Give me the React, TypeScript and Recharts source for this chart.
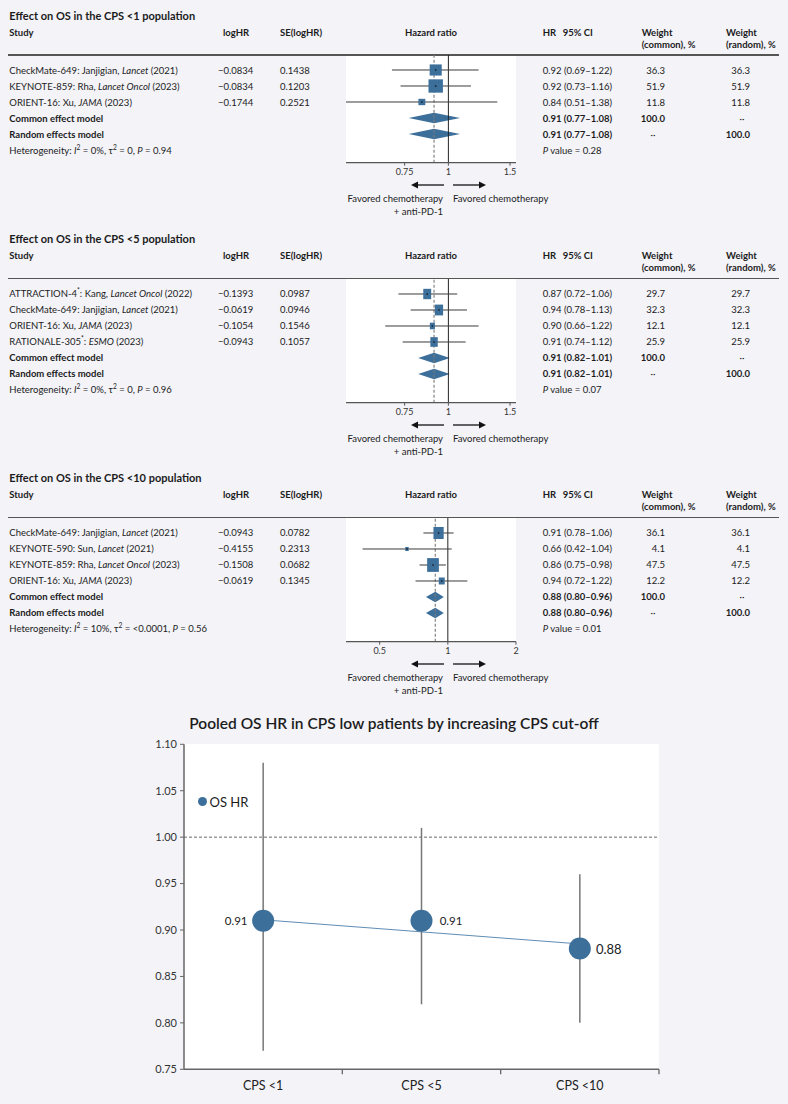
import React from 'react';
import {
  ScatterChart, Scatter, XAxis, YAxis, ReferenceLine, ReferenceArea,
  ComposedChart, Line, ErrorBar, LabelList,
} from 'recharts';

const FONT = 'Lato, "Noto Sans", sans-serif';
const BG = '#f3f3f8';
const BLUE = '#3d6f9b';
const PAGE_W = 788;

// ---------- Panel 1: CPS <1 ----------
const p1Title = 'Effect on OS in the CPS <1 population';
const p1Studies = [
  ['CheckMate-649', false, 'Janjigian, ', 'Lancet', ' (2021)'],
  ['KEYNOTE-859', false, 'Rha, ', 'Lancet Oncol', ' (2023)'],
  ['ORIENT-16', false, 'Xu, ', 'JAMA', ' (2023)'],
];
const p1LogHR = [-0.0834, -0.0834, -0.1744];
const p1SE = [0.1438, 0.1203, 0.2521];
const p1HR = [0.92, 0.92, 0.84];
const p1Low = [0.69, 0.73, 0.51];
const p1High = [1.22, 1.16, 1.38];
const p1WCommon = [36.3, 51.9, 11.8];
const p1WRandom = [36.3, 51.9, 11.8];
const p1Pooled = [0.91, 0.77, 1.08];
const p1Het = ['0%', '0', '0.94'];
const p1PValue = '0.28';
const p1Ticks = [0.75, 1, 1.5];
const p1Domain = [0.51, 1.56];

// ---------- Panel 2: CPS <5 ----------
const p2Title = 'Effect on OS in the CPS <5 population';
const p2Studies = [
  ['ATTRACTION-4', true, 'Kang, ', 'Lancet Oncol', ' (2022)'],
  ['CheckMate-649', false, 'Janjigian, ', 'Lancet', ' (2021)'],
  ['ORIENT-16', false, 'Xu, ', 'JAMA', ' (2023)'],
  ['RATIONALE-305', true, '', 'ESMO', ' (2023)'],
];
const p2LogHR = [-0.1393, -0.0619, -0.1054, -0.0943];
const p2SE = [0.0987, 0.0946, 0.1546, 0.1057];
const p2HR = [0.87, 0.94, 0.9, 0.91];
const p2Low = [0.72, 0.78, 0.66, 0.74];
const p2High = [1.06, 1.13, 1.22, 1.12];
const p2WCommon = [29.7, 32.3, 12.1, 25.9];
const p2WRandom = [29.7, 32.3, 12.1, 25.9];
const p2Pooled = [0.91, 0.82, 1.01];
const p2Het = ['0%', '0', '0.96'];
const p2PValue = '0.07';
const p2Ticks = [0.75, 1, 1.5];
const p2Domain = [0.51, 1.56];

// ---------- Panel 3: CPS <10 ----------
const p3Title = 'Effect on OS in the CPS <10 population';
const p3Studies = [
  ['CheckMate-649', false, 'Janjigian, ', 'Lancet', ' (2021)'],
  ['KEYNOTE-590', false, 'Sun, ', 'Lancet', ' (2021)'],
  ['KEYNOTE-859', false, 'Rha, ', 'Lancet Oncol', ' (2023)'],
  ['ORIENT-16', false, 'Xu, ', 'JAMA', ' (2023)'],
];
const p3LogHR = [-0.0943, -0.4155, -0.1508, -0.0619];
const p3SE = [0.0782, 0.2313, 0.0682, 0.1345];
const p3HR = [0.91, 0.66, 0.86, 0.94];
const p3Low = [0.78, 0.42, 0.75, 0.72];
const p3High = [1.06, 1.04, 0.98, 1.22];
const p3WCommon = [36.1, 4.1, 47.5, 12.2];
const p3WRandom = [36.1, 4.1, 47.5, 12.2];
const p3Pooled = [0.88, 0.8, 0.96];
const p3Het = ['10%', '<0.0001', '0.56'];
const p3PValue = '0.01';
const p3Ticks = [0.5, 1, 2];
const p3Domain = [0.355, 2.0];

// ---------- Summary chart ----------
const summaryTitle = 'Pooled OS HR in CPS low patients by increasing CPS cut-off';
const cpsCategories = ['CPS <1', 'CPS <5', 'CPS <10'];
const pooledHR = [0.91, 0.91, 0.88];
const pooledLow = [0.77, 0.82, 0.8];
const pooledHigh = [1.08, 1.01, 0.96];
const trendHR = [0.911, 0.898, 0.885];
const summaryYTicks = [0.75, 0.8, 0.85, 0.9, 0.95, 1.0, 1.05, 1.1];

// ---------- helpers ----------
function Txt({ x, y, children, anchor = 'start', size = 9.5, weight = 400, style = {} }: any) {
  const lh = Math.round(size * 1.35);
  const base: any = {
    position: 'absolute', top: y - lh / 2, lineHeight: lh + 'px', fontSize: size,
    fontWeight: weight, whiteSpace: 'nowrap', color: '#1c1c1c', fontFamily: FONT, ...style,
  };
  if (anchor === 'end') return <div style={{ ...base, right: PAGE_W - x }}>{children}</div>;
  if (anchor === 'middle') return <div style={{ ...base, left: x, transform: 'translateX(-50%)' }}>{children}</div>;
  return <div style={{ ...base, left: x }}>{children}</div>;
}

const supStyle: any = { fontSize: '0.7em', verticalAlign: 'super', lineHeight: 0 };

const fmtCI = (h: number, l: number, u: number) => `${h.toFixed(2)} (${l.toFixed(2)}–${u.toFixed(2)})`;
const fmtLog = (v: number) => v.toFixed(4).replace('-', '−');

function ForestChart({ hr, lo, hi, w, pooled, domain, ticks, sq, plotH, n }: any) {
  const k = hr.length;
  const pts = hr.map((v: number, i: number) => ({ x: v, y: i, w: w[i] }));
  const lnL = Math.log(pooled[1]);
  const lnU = Math.log(pooled[2]);
  const frac = (Math.log(pooled[0]) - lnL) / (lnU - lnL);
  const diamond = (p: any) => {
    const { x, y, width, height } = p;
    const ex = x + frac * width;
    return (
      <polygon
        points={`${x},${y + height / 2} ${ex},${y} ${x + width},${y + height / 2} ${ex},${y + height}`}
        fill={BLUE}
      />
    );
  };
  const square = (p: any) => {
    const { cx, cy, payload } = p;
    const s = Math.sqrt(payload.w);
    const ww = sq[0] * s;
    const hh = sq[1] * s;
    return (
      <g>
        <rect x={cx - ww / 2} y={cy - hh / 2} width={ww} height={hh} fill={BLUE} />
        <circle cx={cx} cy={cy} r={0.9} fill="#1d2a38" />
      </g>
    );
  };
  return (
    <ScatterChart width={190} height={plotH + 22} margin={{ top: 0, right: 10, bottom: 0, left: 10 }}>
      <XAxis
        type="number" dataKey="x" scale="log" domain={domain} allowDataOverflow ticks={ticks}
        interval={0} tickSize={3} tickMargin={3} height={22}
        axisLine={{ stroke: '#555', strokeWidth: 1.3 }} tickLine={{ stroke: '#555' }}
        tick={{ fontSize: 9, fill: '#333', fontFamily: FONT }} tickFormatter={(v: number) => String(v)}
      />
      <YAxis type="number" dataKey="y" domain={[-0.9375, n - 0.206]} reversed hide allowDataOverflow />
      <ReferenceLine x={pooled[0]} stroke="#7a7a7a" strokeDasharray="3 2" strokeWidth={1.1} />
      <ReferenceLine x={1} stroke="#222" strokeWidth={1} />
      {hr.map((v: number, i: number) => (
        <ReferenceLine
          key={i} segment={[{ x: lo[i], y: i }, { x: hi[i], y: i }]}
          stroke="#3a3a3a" strokeWidth={1} ifOverflow="visible"
        />
      ))}
      <Scatter data={pts} isAnimationActive={false} shape={square} />
      {[0, 1].map((j) => (
        <ReferenceArea
          key={j} x1={pooled[1]} x2={pooled[2]} y1={k + j - 0.33} y2={k + j + 0.33}
          ifOverflow="visible" shape={diamond}
        />
      ))}
    </ScatterChart>
  );
}

function Arrows({ y }: any) {
  return (
    <svg style={{ position: 'absolute', left: 400, top: y - 5 }} width={100} height={10}>
      <line x1={18} x2={44} y1={5} y2={5} stroke="#111" strokeWidth={1.3} />
      <polygon points="11,5 18,1.5 18,8.5" fill="#111" />
      <line x1={53} x2={79} y1={5} y2={5} stroke="#111" strokeWidth={1.3} />
      <polygon points="86,5 79,1.5 79,8.5" fill="#111" />
    </svg>
  );
}

function ForestPanel({ top, title, studies, logHR, se, hr, lo, hi, wc, wr, pooled, het, pval, domain, ticks, sq }: any) {
  const k = hr.length;
  const n = k + 3;
  const rule = top + 40;
  const rowY = (i: number) => rule + 15 + 16 * i;
  const plotH = 16 * n + 11.7;
  const axisY = rule + plotH;
  const hs = 9.5;
  const rs = 9.5;
  return (
    <>
      <Txt x={9.3} y={top} size={11} weight={700}>{title}</Txt>
      <Txt x={9.3} y={top + 17} size={hs} weight={700}>Study</Txt>
      <Txt x={223} y={top + 17} size={hs} weight={700}>logHR</Txt>
      <Txt x={280} y={top + 17} size={hs} weight={700}>SE(logHR)</Txt>
      <Txt x={431} y={top + 17} size={hs} weight={700} anchor="middle">Hazard ratio</Txt>
      <Txt x={542.7} y={top + 17} size={hs} weight={700}>HR</Txt>
      <Txt x={562.7} y={top + 17} size={hs} weight={700}>95% CI</Txt>
      <Txt x={641.7} y={top + 17} size={hs} weight={700}>Weight</Txt>
      <Txt x={641.7} y={top + 29} size={hs} weight={700}>(common), %</Txt>
      <Txt x={726} y={top + 17} size={hs} weight={700}>Weight</Txt>
      <Txt x={726} y={top + 29} size={hs} weight={700}>(random), %</Txt>
      <div style={{ position: 'absolute', left: 8, top: rule - 0.75, width: 771, height: 1.5, background: '#555' }} />
      <div style={{ position: 'absolute', left: 346, top: rule + 0.75, width: 170, height: plotH - 0.75, background: '#fff' }} />
      <div style={{ position: 'absolute', left: 336, top: rule }}>
        <ForestChart hr={hr} lo={lo} hi={hi} w={wc} pooled={pooled} domain={domain} ticks={ticks} sq={sq} plotH={plotH} n={n} />
      </div>
      {studies.map((s: any, i: number) => (
        <React.Fragment key={i}>
          <Txt x={9.3} y={rowY(i)} size={rs}>
            {s[0]}{s[1] ? <span style={supStyle}>*</span> : null}: {s[2]}<i>{s[3]}</i>{s[4]}
          </Txt>
          <Txt x={218} y={rowY(i)} size={rs}>{fmtLog(logHR[i])}</Txt>
          <Txt x={280} y={rowY(i)} size={rs}>{se[i].toFixed(4)}</Txt>
          <Txt x={542.7} y={rowY(i)} size={rs}>{fmtCI(hr[i], lo[i], hi[i])}</Txt>
          <Txt x={665} y={rowY(i)} size={rs} anchor="end">{wc[i].toFixed(1)}</Txt>
          <Txt x={750} y={rowY(i)} size={rs} anchor="end">{wr[i].toFixed(1)}</Txt>
        </React.Fragment>
      ))}
      <Txt x={9.3} y={rowY(k)} size={rs} weight={700}>Common effect model</Txt>
      <Txt x={542.7} y={rowY(k)} size={rs} weight={700}>{fmtCI(pooled[0], pooled[1], pooled[2])}</Txt>
      <Txt x={665} y={rowY(k)} size={rs} weight={700} anchor="end">100.0</Txt>
      <Txt x={742} y={rowY(k)} size={rs} anchor="middle">··</Txt>
      <Txt x={9.3} y={rowY(k + 1)} size={rs} weight={700}>Random effects model</Txt>
      <Txt x={542.7} y={rowY(k + 1)} size={rs} weight={700}>{fmtCI(pooled[0], pooled[1], pooled[2])}</Txt>
      <Txt x={653} y={rowY(k + 1)} size={rs} anchor="middle">··</Txt>
      <Txt x={750} y={rowY(k + 1)} size={rs} weight={700} anchor="end">100.0</Txt>
      <Txt x={9.3} y={rowY(k + 2)} size={rs}>
        Heterogeneity: <i>I</i><span style={supStyle}>2</span> = {het[0]}, τ<span style={supStyle}>2</span> = {het[1]}, <i>P</i> = {het[2]}
      </Txt>
      <Txt x={542.7} y={rowY(k + 2)} size={rs}><i>P</i> value = {pval}</Txt>
      <Arrows y={axisY + 22.5} />
      <Txt x={443} y={axisY + 36} size={rs} anchor="end">Favored chemotherapy</Txt>
      <Txt x={443} y={axisY + 49} size={rs} anchor="end">+ anti-PD-1</Txt>
      <Txt x={453} y={axisY + 36} size={rs}>Favored chemotherapy</Txt>
    </>
  );
}

const CatTick = (props: any) => {
  const { x, y, payload } = props;
  const v = payload.value;
  if (Number.isInteger(v)) {
    if (v === 0) return null;
    return <line x1={x} x2={x} y1={y} y2={y + 5} stroke="#666" strokeWidth={1.3} />;
  }
  return (
    <text x={x} y={y + 16} textAnchor="middle" dominantBaseline="central" fontSize={12.5} fill="#222" fontFamily={FONT}>
      {cpsCategories[Math.floor(v)]}
    </text>
  );
};

const labelOffsets = [-27, 29.5, 29];
const labelSizes = [11.5, 11.5, 13];

function SummaryChart() {
  const data = cpsCategories.map((c, i) => ({
    x: i + 0.5,
    name: c,
    hr: pooledHR[i],
    trend: trendHR[i],
    err: [pooledHR[i] - pooledLow[i], pooledHigh[i] - pooledHR[i]],
  }));
  const renderLabel = (p: any) => {
    const { x, y, value, index } = p;
    return (
      <text x={x + labelOffsets[index]} y={y} textAnchor="middle" dominantBaseline="central"
        fontSize={labelSizes[index]} fill="#222" fontFamily={FONT}>
        {Number(value).toFixed(2)}
      </text>
    );
  };
  return (
    <ComposedChart width={680} height={365} data={data} margin={{ top: 9.3, right: 21, bottom: 0, left: 0 }}>
      <XAxis
        type="number" dataKey="x" domain={[0, 3]} ticks={[0.5, 1, 1.5, 2, 2.5, 3]} interval={0}
        tickSize={0} tickMargin={0} tickLine={false} height={30.7}
        axisLine={{ stroke: '#666', strokeWidth: 1.5 }} tick={<CatTick />}
      />
      <YAxis
        type="number" domain={[0.75, 1.1]} ticks={summaryYTicks} interval={0} width={184}
        tickSize={4} tickMargin={3} axisLine={{ stroke: '#666', strokeWidth: 1.5 }} tickLine={{ stroke: '#666' }}
        tick={{ fontSize: 11, fill: '#333', fontFamily: FONT }} tickFormatter={(v: number) => v.toFixed(2)}
      />
      <ReferenceLine y={1} stroke="#444" strokeDasharray="3 2" strokeWidth={0.8} />
      <Line dataKey="hr" stroke="none" dot={false} activeDot={false} isAnimationActive={false}>
        <ErrorBar dataKey="err" direction="y" width={0} stroke="#777" strokeWidth={1.5} />
      </Line>
      <Line dataKey="trend" stroke="#5f8db5" strokeWidth={1} dot={false} activeDot={false} isAnimationActive={false} />
      <Line
        dataKey="hr" stroke="none" isAnimationActive={false}
        dot={{ r: 11, fill: BLUE, stroke: 'none' }} activeDot={false}
      >
        <LabelList dataKey="hr" content={renderLabel} />
      </Line>
    </ComposedChart>
  );
}

export default function App() {
  return (
    <div style={{ position: 'absolute', left: 0, top: 0, width: PAGE_W, height: 1104, background: BG, fontFamily: FONT, overflow: 'hidden' }}>
      <ForestPanel top={15} title={p1Title} studies={p1Studies} logHR={p1LogHR} se={p1SE} hr={p1HR} lo={p1Low} hi={p1High}
        wc={p1WCommon} wr={p1WRandom} pooled={p1Pooled} het={p1Het} pval={p1PValue} domain={p1Domain} ticks={p1Ticks} sq={[2.0, 1.85]} />
      <ForestPanel top={238.5} title={p2Title} studies={p2Studies} logHR={p2LogHR} se={p2SE} hr={p2HR} lo={p2Low} hi={p2High}
        wc={p2WCommon} wr={p2WRandom} pooled={p2Pooled} het={p2Het} pval={p2PValue} domain={p2Domain} ticks={p2Ticks} sq={[1.45, 1.9]} />
      <ForestPanel top={477.5} title={p3Title} studies={p3Studies} logHR={p3LogHR} se={p3SE} hr={p3HR} lo={p3Low} hi={p3High}
        wc={p3WCommon} wr={p3WRandom} pooled={p3Pooled} het={p3Het} pval={p3PValue} domain={p3Domain} ticks={p3Ticks} sq={[1.7, 2.0]} />

      <Txt x={394} y={723} size={15.5} weight={600} anchor="middle">{summaryTitle}</Txt>
      <div style={{ position: 'absolute', left: 184, top: 744.3, width: 475, height: 325, background: '#fff' }} />
      <div style={{ position: 'absolute', left: 0, top: 735 }}>
        <SummaryChart />
      </div>
      <div style={{ position: 'absolute', left: 198, top: 797, width: 9.4, height: 9.4, borderRadius: '50%', background: BLUE }} />
      <Txt x={209.5} y={802} size={13}>OS HR</Txt>
    </div>
  );
}
